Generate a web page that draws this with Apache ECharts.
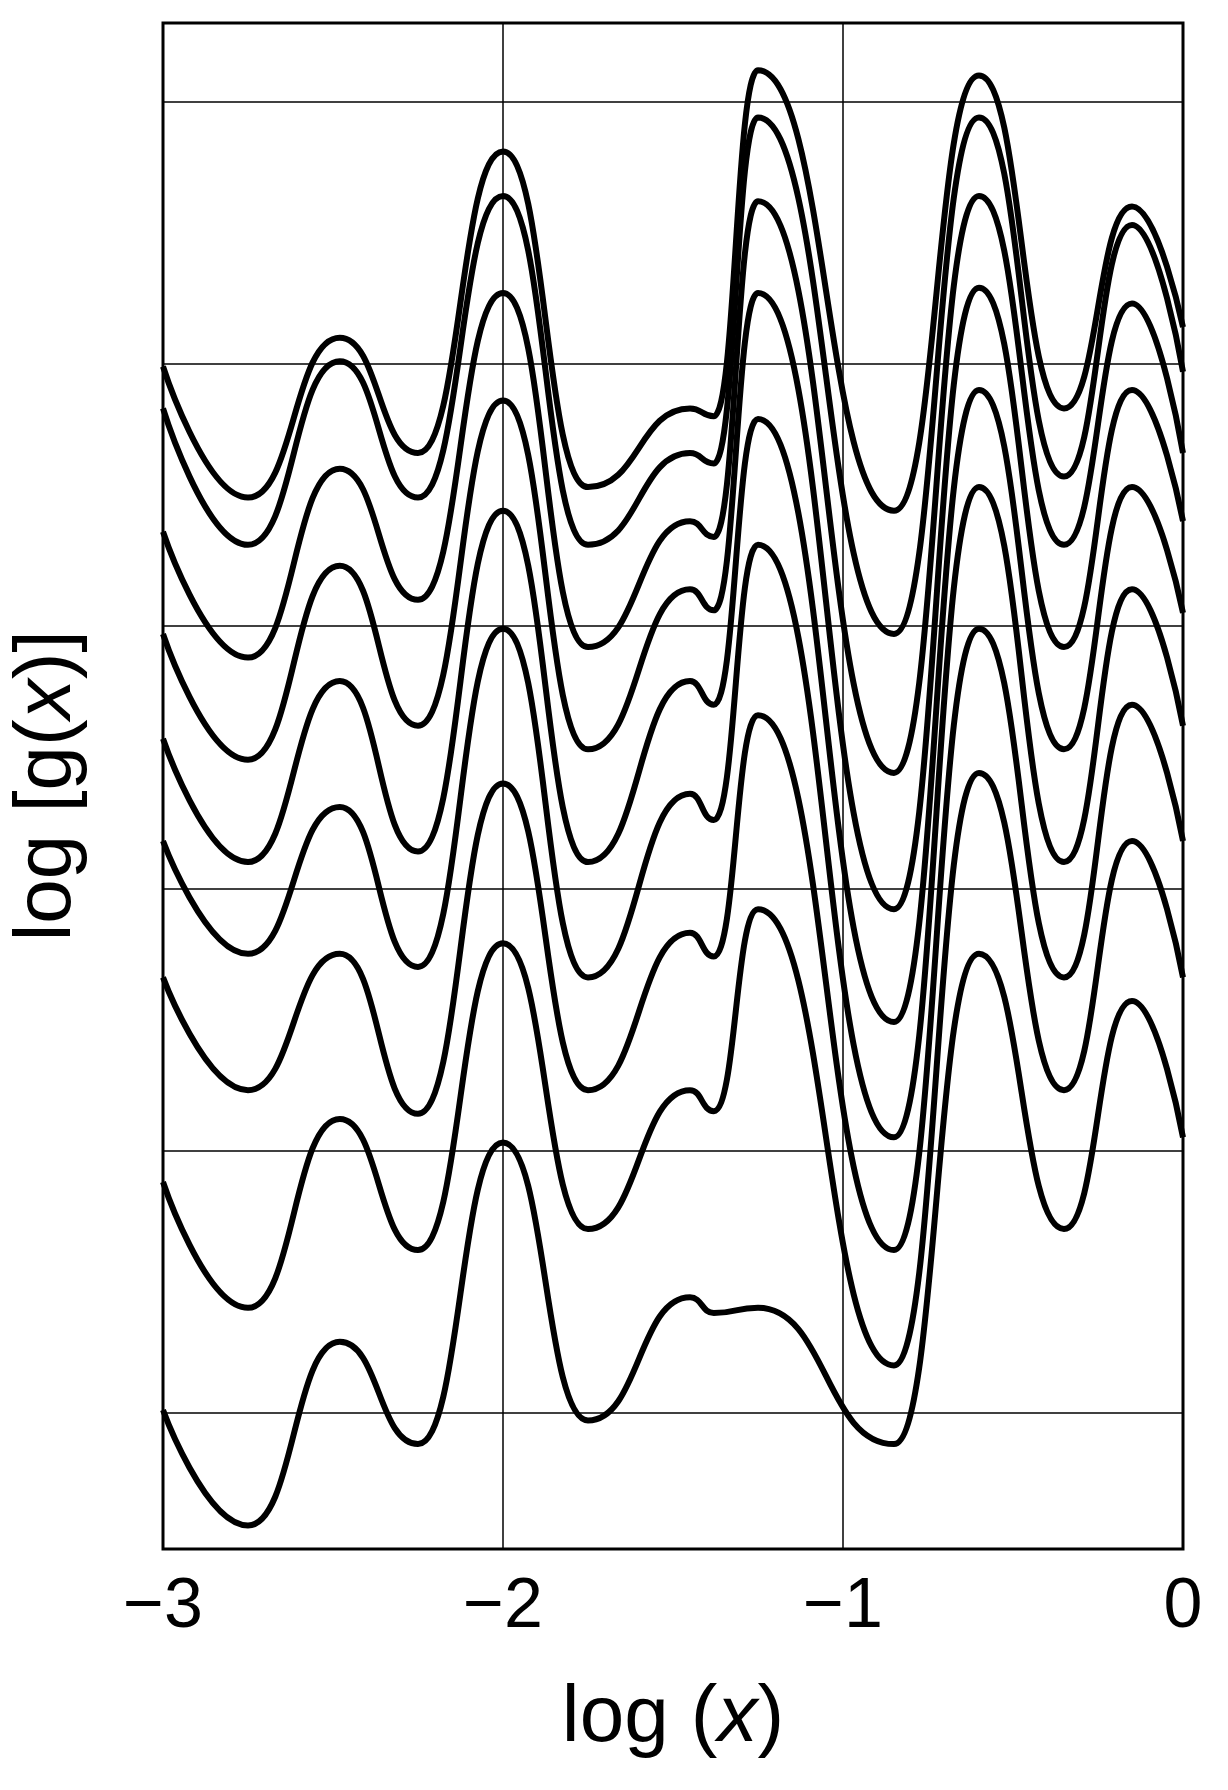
<!DOCTYPE html>
<html>
<head>
<meta charset="utf-8">
<script src="https://cdn.jsdelivr.net/npm/echarts@6/dist/echarts.min.js"></script>
<style>html,body{margin:0;padding:0;background:#fff}#chart{width:1228px;height:1790px}</style>
</head>
<body>
<div id="chart"></div>
<script>
// feature positions along log(x): edges, troughs and peaks
var xs = [-3, -2.75, -2.48, -2.25, -2.0, -1.75, -1.45, -1.38, -1.25, -0.85, -0.6, -0.35, -0.15, 0]
var c1 = [4.99, 4.49, 5.10, 4.66, 5.81, 4.53, 4.83, 4.80, 6.12, 4.44, 6.10, 4.83, 5.60, 5.14]
var c2 = [4.83, 4.31, 5.01, 4.49, 5.64, 4.31, 4.66, 4.62, 5.94, 3.97, 5.94, 4.57, 5.53, 4.97]
var c3 = [4.36, 3.88, 4.60, 4.10, 5.27, 3.92, 4.40, 4.34, 5.62, 3.44, 5.64, 4.31, 5.23, 4.66]
var c4 = [3.97, 3.49, 4.23, 3.62, 4.86, 3.53, 4.14, 4.06, 5.27, 2.92, 5.29, 3.92, 4.90, 4.40]
var c5 = [3.57, 3.10, 3.79, 3.14, 4.44, 3.10, 3.79, 3.70, 4.79, 2.49, 4.90, 3.53, 4.53, 4.05]
var c6 = [3.18, 2.75, 3.31, 2.70, 3.99, 2.66, 3.36, 3.26, 4.31, 2.05, 4.53, 3.10, 4.14, 3.62]
var c7 = [2.66, 2.23, 2.75, 2.14, 3.40, 2.23, 2.83, 2.74, 3.66, 1.62, 3.99, 2.66, 3.70, 3.18]
var c8 = [1.88, 1.40, 2.12, 1.62, 2.79, 1.70, 2.23, 2.15, 2.92, 1.18, 3.44, 2.23, 3.18, 2.66]
var c9 = [1.01, 0.57, 1.27, 0.88, 2.03, 0.97, 1.44, 1.38, 1.40, 0.88, 2.75, 1.70, 2.57, 2.05]
var curves = [c1, c2, c3, c4, c5, c6, c7, c8, c9]
var yGrid = [1, 2, 3, 4, 5, 6]

var chart = echarts.init(document.getElementById('chart'))
var series = []
for (var i = 0; i < curves.length; i++) {
    var pts = []
    for (var j = 0; j < xs.length; j++) pts.push([xs[j], curves[i][j]])
    var s = {
        type: 'line',
        data: pts,
        smooth: 0.5,
        smoothMonotone: 'x',
        showSymbol: false,
        lineStyle: { color: '#000', width: 6 }
    }
    if (i == 0) {
        s.markLine = {
            silent: true,
            symbol: 'none',
            label: { show: false },
            lineStyle: { color: '#000', width: 1.5, type: 'solid' },
            data: yGrid.map(function(v) { return { yAxis: v } })
        }
    }
    series.push(s)
}

chart.setOption({
    animation: false,
    grid: { left: 163, right: 45, top: 23, bottom: 241, show: true, borderColor: '#000', borderWidth: 3 },
    xAxis: {
        type: 'value', min: -3, max: 0, interval: 1,
        axisLine: { show: false },
        axisTick: { show: false },
        splitLine: { show: true, lineStyle: { color: '#000', width: 1.5 } },
        axisLabel: {
            fontSize: 70, color: '#000', fontFamily: 'Liberation Sans', margin: 24,
            formatter: function(v) { return v < 0 ? '\u2212' + (-v) : '' + v }
        },
        name: 'log ({i|x})',
        nameLocation: 'middle', nameGap: 130,
        nameTextStyle: {
            fontSize: 80, color: '#000', fontFamily: 'Liberation Sans',
            rich: { i: { fontSize: 80, fontStyle: 'italic', fontFamily: 'Liberation Sans', color: '#000' } }
        }
    },
    yAxis: {
        type: 'value', min: 0.48, max: 6.3,
        axisLine: { show: false },
        axisTick: { show: false },
        axisLabel: { show: false },
        splitLine: { show: false },
        name: 'log [g({i|x})]',
        nameLocation: 'middle', nameGap: 75, nameRotate: 90,
        nameTextStyle: {
            fontSize: 80, color: '#000', fontFamily: 'Liberation Sans',
            rich: { i: { fontSize: 80, fontStyle: 'italic', fontFamily: 'Liberation Sans', color: '#000' } }
        }
    },
    series: series
})
</script>
</body>
</html>
